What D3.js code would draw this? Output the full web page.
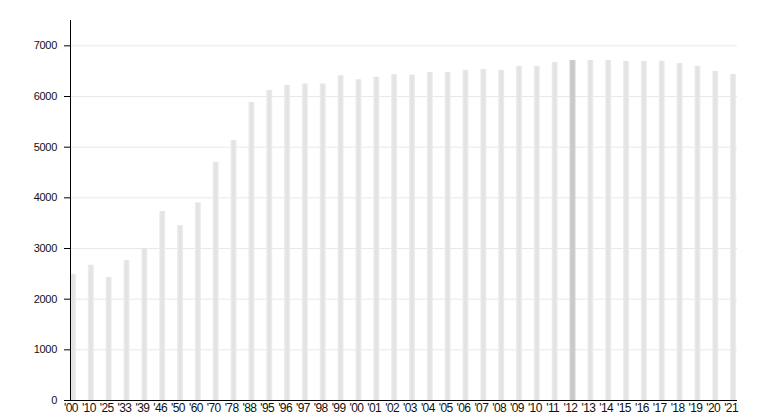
<!DOCTYPE html>
<html>
<head>
<meta charset="utf-8">
<script src="https://cdn.jsdelivr.net/npm/d3@7"></script>
<style>
  body { margin: 0; background: #fff; }
  text { font-family: "Liberation Sans", Arial, sans-serif; }
</style>
</head>
<body>
<div id="chart"></div>
<script>
var width = 776,
  height = 420;

// data
var years = ["'00", "'10", "'25", "'33", "'39", "'46", "'50", "'60", "'70", "'78", "'88",
  "'95", "'96", "'97", "'98", "'99", "'00", "'01", "'02", "'03", "'04", "'05", "'06", "'07",
  "'08", "'09", "'10", "'11", "'12", "'13", "'14", "'15", "'16", "'17", "'18", "'19", "'20", "'21"];
var values = [2490, 2670, 2430, 2760, 3000, 3730, 3450, 3900, 4700, 5130, 5880,
  6120, 6220, 6245, 6245, 6410, 6330, 6380, 6430, 6420, 6475, 6475, 6515, 6535,
  6515, 6595, 6595, 6670, 6710, 6710, 6710, 6690, 6690, 6695, 6650, 6595, 6495, 6435];
var yTicks = [0, 1000, 2000, 3000, 4000, 5000, 6000, 7000];
var highlightIndex = 28; // '12

var margin = { left: 70, top: 20, bottom: 400, right: 737 };

var svg = d3.select('#chart')
  .append('svg')
  .attr('width', width)
  .attr('height', height);

var defs = svg.append('defs');
function barGradient(id, edge, mid) {
  var g = defs.append('linearGradient')
    .attr('id', id)
    .attr('x1', '0%').attr('x2', '100%')
    .attr('y1', '0%').attr('y2', '0%');
  g.append('stop').attr('offset', '0%').attr('stop-color', edge);
  g.append('stop').attr('offset', '35%').attr('stop-color', mid);
  g.append('stop').attr('offset', '65%').attr('stop-color', mid);
  g.append('stop').attr('offset', '100%').attr('stop-color', edge);
}
barGradient('barFill', '#eeeeee', '#e3e3e3');
barGradient('barHi', '#d3d3d3', '#c9c9c9');

var x = d3.scaleBand()
  .domain(d3.range(years.length))
  .range([margin.left, margin.left + years.length * 17.84])
  .padding(0);

var y = d3.scaleLinear()
  .domain([0, 7500])
  .range([margin.bottom, margin.top]);

// gridlines
svg.append('g')
  .selectAll('line')
  .data(yTicks.filter(d => d > 0))
  .join('line')
  .attr('x1', margin.left)
  .attr('x2', margin.right)
  .attr('y1', d => y(d) + 0.5)
  .attr('y2', d => y(d) + 0.5)
  .attr('stroke', '#e8e8e8')
  .attr('stroke-width', 1);

// bars
svg.append('g')
  .selectAll('rect')
  .data(values)
  .join('rect')
  .attr('x', (d, i) => x(i))
  .attr('y', d => y(d))
  .attr('width', 6)
  .attr('height', d => y(0) - y(d))
  .attr('fill', (d, i) => i === highlightIndex ? 'url(#barHi)' : 'url(#barFill)');

// y axis
var yAxis = svg.append('g')
  .attr('transform', 'translate(' + margin.left + ',0)')
  .call(d3.axisLeft(y).tickValues(yTicks).tickFormat(d3.format('d'))
    .tickSize(6).tickPadding(7).tickSizeOuter(0));
yAxis.select('.domain').attr('stroke', '#000').attr('d', 'M0.5,' + margin.top + 'V' + margin.bottom);
yAxis.selectAll('.tick line').attr('stroke', '#000');
yAxis.selectAll('text')
  .attr('font-size', 11)
  .attr('letter-spacing', -0.3)
  .attr('fill', '#111');

// x axis
var xAxis = svg.append('g')
  .attr('transform', 'translate(0,' + margin.bottom + ')');
xAxis.append('line')
  .attr('x1', margin.left)
  .attr('x2', margin.right)
  .attr('y1', 0.5)
  .attr('y2', 0.5)
  .attr('stroke', '#000');
xAxis.selectAll('text')
  .data(years)
  .join('text')
  .attr('x', (d, i) => x(i) + 1)
  .attr('y', 12)
  .attr('text-anchor', 'middle')
  .attr('font-size', 12)
  .attr('letter-spacing', -0.6)
  .attr('fill', '#111')
  .text(d => d);
</script>
</body>
</html>
